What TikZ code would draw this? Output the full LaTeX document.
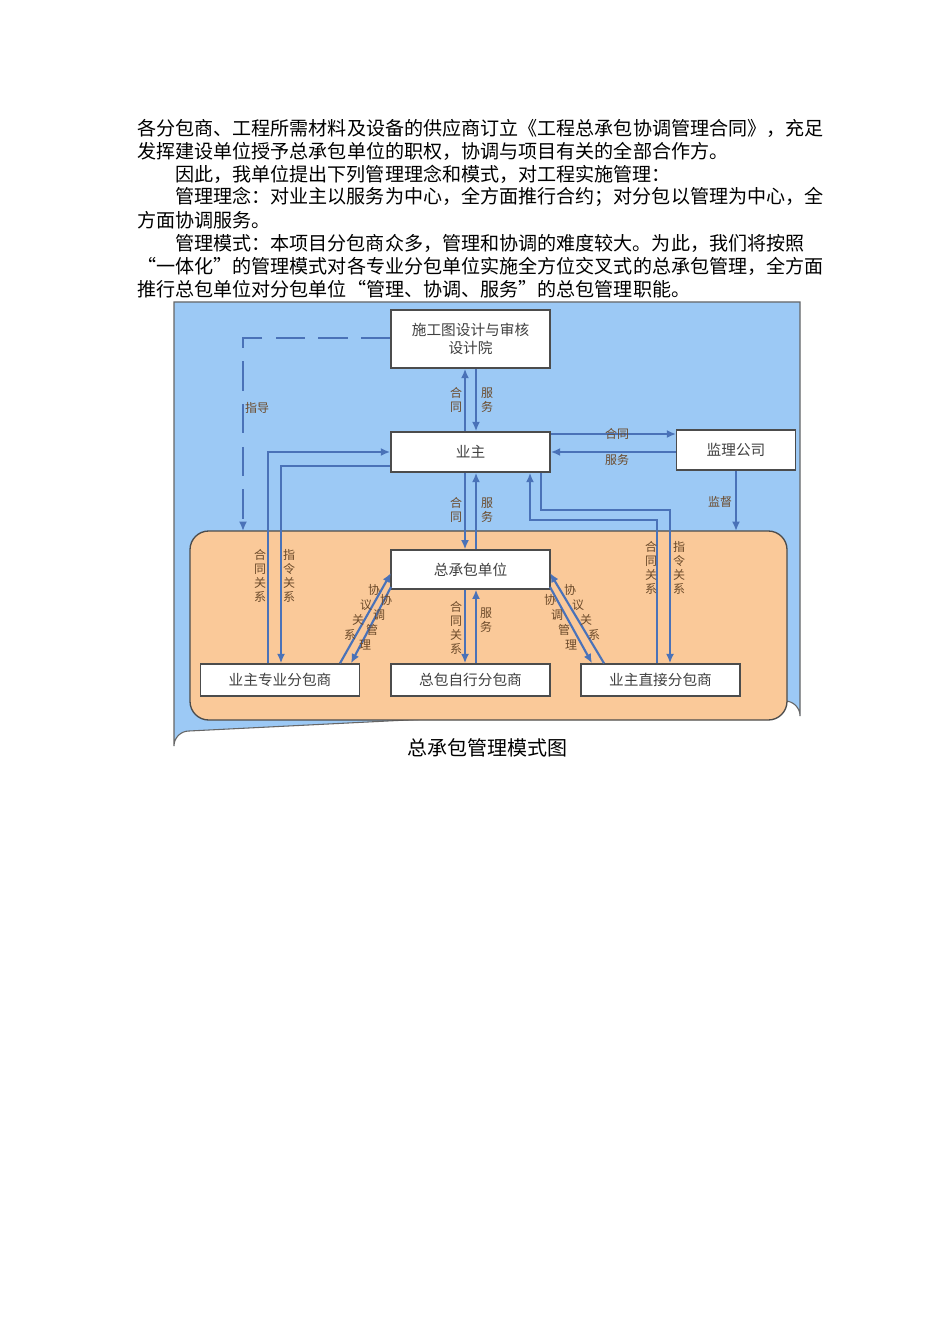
\documentclass[tikz,border=0pt]{standalone}
\usepackage{fontspec}
\setmainfont{Noto Sans CJK SC}
\usetikzlibrary{arrows.meta}
\definecolor{lblue}{HTML}{9CC9F5}
\definecolor{orng}{HTML}{FAC999}
\definecolor{arr}{HTML}{4A72B8}
\definecolor{lbl}{HTML}{6B4A2A}
\begin{document}
\begin{tikzpicture}[x=0.75pt,y=-0.75pt,
  body/.style={anchor=west,inner sep=0pt,font=\fontsize{14.3pt}{16pt}\selectfont},
  bx/.style={draw=black!70,line width=1pt,fill=white,inner sep=0pt,font=\fontsize{11pt}{14pt}\selectfont,align=center,text=black!75},
  ar/.style={draw=arr,line width=1.6pt,-{Latex[length=7pt,width=6pt]}},
  vl/.style={font=\fontsize{9pt}{10.5pt}\selectfont,text=lbl,align=center,inner sep=0pt},
  ch/.style={font=\fontsize{9pt}{10pt}\selectfont,text=lbl,inner sep=0pt}]
\useasboundingbox (0,0) rectangle (950,1344);
\fill[white] (0,0) rectangle (950,1344);
% text
\node[body] (t1) at (137,128) {各分包商、工程所需材料及设备的供应商订立《工程总承包协调管理合同》，充足};
\node[body] (t2) at (137,151) {发挥建设单位授予总承包单位的职权，协调与项目有关的全部合作方。};
\node[body] (t3) at (175,174) {因此，我单位提出下列管理理念和模式，对工程实施管理：};
\node[body] (t4) at (175,197) {管理理念：对业主以服务为中心，全方面推行合约；对分包以管理为中心，全};
\node[body] (t5) at (137,220) {方面协调服务。};
\node[body] (t6) at (175,243) {管理模式：本项目分包商众多，管理和协调的难度较大。为此，我们将按照};
\node[body] (t7) at (137,266) {“一体化”的管理模式对各专业分包单位实施全方位交叉式的总承包管理，全方面};
\node[body] (t8) at (137,289) {推行总包单位对分包单位“管理、协调、服务”的总包管理职能。};
% backgrounds
\draw[black!60,line width=0.8pt,fill=lblue] (174,302) -- (800,302) -- (800,716) arc[start angle=0,end angle=90,x radius=15,y radius=-15] -- (189,731) arc[start angle=90,end angle=180,x radius=15,y radius=-15] -- cycle;
\draw[black!70,line width=1pt,fill=orng,rounded corners=14] (190,531) rectangle (787,720);
% boxes
\node[bx,minimum width=119bp,minimum height=43.5bp] (d) at (470.5,339) {施工图设计与审核\\设计院};
\node[bx,minimum width=119bp,minimum height=30bp] (o) at (470.5,452) {业主};
\node[bx,minimum width=88.5bp,minimum height=30bp] (s) at (736,450) {监理公司};
\node[bx,minimum width=119bp,minimum height=29bp] (g) at (470.5,569.5) {总承包单位};
\node[bx,minimum width=118.5bp,minimum height=24bp] (a) at (280,680) {业主专业分包商};
\node[bx,minimum width=119bp,minimum height=24bp] (b) at (470.5,680) {总包自行分包商};
\node[bx,minimum width=119bp,minimum height=24bp] (c) at (660.5,680) {业主直接分包商};
\node[font=\fontsize{15pt}{18pt}\selectfont,inner sep=0pt] (cap) at (487,748) {总承包管理模式图};
% arrows design-owner
\draw[ar] (o.north -| 465,0) -- (d.south -| 465,0);
\draw[ar] (d.south -| 476,0) -- (o.north -| 476,0);
\node[vl] at (456,400) {合\\同};
\node[vl] at (487,400) {服\\务};
% owner-supervisor
\draw[ar] (o.east |- 0,434) -- (s.west |- 0,434);
\draw[ar] (s.west |- 0,452) -- (o.east |- 0,452);
\node[vl] at (617,434) {合同};
\node[vl] at (617,460) {服务};
\coordinate (sv) at (736,531);
\draw[ar] (s.south) -- (sv);
\node[vl] at (720,502) {监督};
% dashed
\coordinate (dg) at (243,531);
\draw[draw=arr,line width=1.6pt,dash pattern=on 22pt off 10pt,-{Latex[length=7pt,width=6pt]}] (d.west |- 0,338) -| (dg);
\node[vl] at (257,408) {指导};
% owner-general
\draw[ar] (o.south -| 465,0) -- (g.north -| 465,0);
\draw[ar] (g.north -| 476,0) -- (o.south -| 476,0);
\node[vl] at (456,510) {合\\同};
\node[vl] at (487,510) {服\\务};
% owner - owner specialist
\draw[ar] (a.north -| 268,0) -- (268,452) -- (o.west |- 0,452);
\draw[ar] (o.west |- 0,466) -- (281,466) -- (a.north -| 281,0);
\node[vl] at (260,576) {合\\同\\关\\系};
\node[vl] at (289,576) {指\\令\\关\\系};
% owner - direct
\draw[ar] (c.north -| 657,0) -- (657,520) -- (530,520) -- (o.south -| 530,0);
\draw[ar] (o.south -| 541,0) -- (541,510) -- (670,510) -- (c.north -| 670,0);
\node[vl] at (651,568) {合\\同\\关\\系};
\node[vl] at (679,568) {指\\令\\关\\系};
% general - self
\draw[ar] (g.south -| 465,0) -- (b.north -| 465,0);
\draw[ar] (b.north -| 476,0) -- (g.south -| 476,0);
\node[vl] at (456,628) {合\\同\\关\\系};
\node[vl] at (486,620) {服\\务};
% diagonals
\draw[ar] (a.north -| 340,0) -- (391,573);
\draw[ar] (391,587) -- (a.north -| 351,0);
\draw[ar] (c.north -| 604,0) -- (550,573);
\draw[ar] (550,587) -- (c.north -| 592,0);
\foreach \t [count=\i] in {协,议,关,系} {
  \node[ch] at ({374-8*(\i-1)},{590+15*(\i-1)}) {\t};
  \node[ch] at ({570+8*(\i-1)},{590+15*(\i-1)}) {\t};
}
\foreach \t [count=\i] in {协,调,管,理} {
  \node[ch] at ({386-7*(\i-1)},{600+15*(\i-1)}) {\t};
  \node[ch] at ({550+7*(\i-1)},{600+15*(\i-1)}) {\t};
}
\end{tikzpicture}
\end{document}
